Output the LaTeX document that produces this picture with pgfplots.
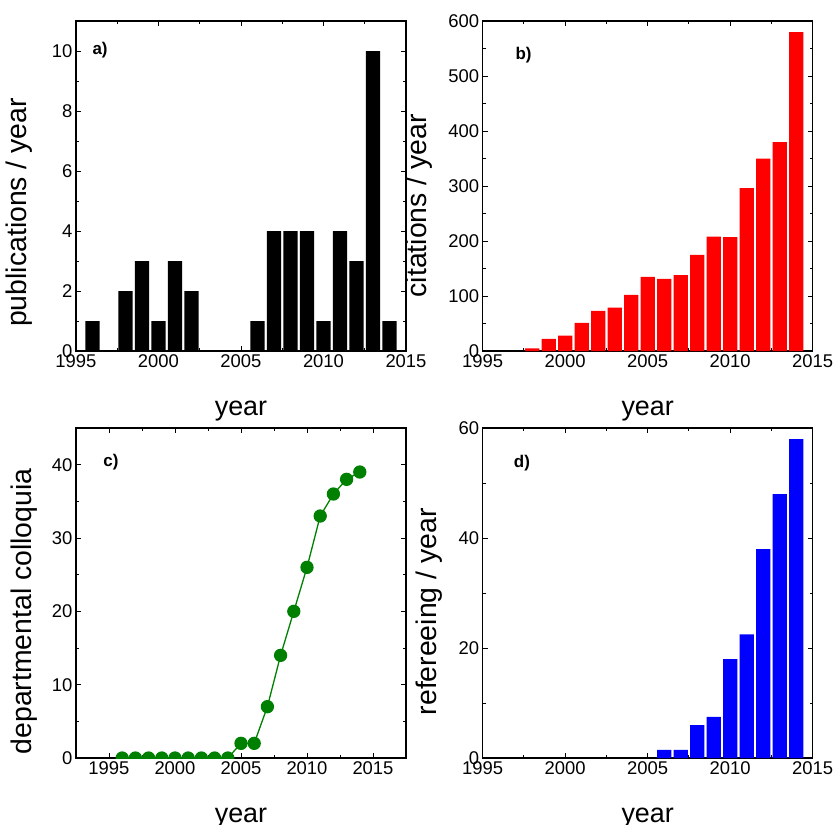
\documentclass[border=0pt]{standalone}
\usepackage{pgfplots}
\pgfplotsset{compat=1.18}
\usepackage{fontspec}
\setmainfont{Liberation Sans}
\definecolor{dgreen}{RGB}{0,128,0}
\pgfplotsset{panel/.style={
  scale only axis, width=330bp, height=330bp,
  axis line style={line width=1.2bp},
  every tick/.style={line width=1bp, black},
  major tick length=5bp, minor tick length=3bp,
  tick align=inside,
  minor tick num=1,
  ticklabel style={font=\fontsize{18.5}{20}\selectfont},
  xlabel style={font=\fontsize{27}{30}\selectfont},
  ylabel style={font=\fontsize{28.5}{30}\selectfont},
  xlabel={year},
  xlabel style={at={(axis description cs:0.5,0)}, anchor=base, yshift=-64bp},
  /pgf/number format/assume math mode=true,
  /pgf/number format/1000 sep={},
  xmin=1995, xmax=2015, xtick={1995,2000,...,2015},
  ymin=0,
  clip marker paths=true,
}}
\begin{document}
\begin{tikzpicture}
\path[use as bounding box] (0,0) rectangle (835bp,-825bp);
% a)
\begin{axis}[panel, at={(76bp,-351bp)}, anchor=south west,
  ymax=11, ytick={0,2,...,10},
  ylabel={publications / year},
  ylabel style={at={(axis description cs:-0.149,0.42)}, anchor=base}]
\addplot[ybar, bar width=0.87, fill=black, draw=none] coordinates {
(1996,1) (1998,2) (1999,3) (2000,1) (2001,3) (2002,2)
(2006,1) (2007,4) (2008,4) (2009,4) (2010,1) (2011,4) (2012,3) (2013,10) (2014,1)};
\node[font=\bfseries\fontsize{17}{20}\selectfont] at (rel axis cs:0.073,0.911) {a)};
\end{axis}
% b)
\begin{axis}[panel, at={(482.7bp,-351bp)}, anchor=south west,
  ymax=600, ytick={0,100,...,600},
  ylabel={citations / year},
  ylabel style={at={(axis description cs:-0.170,0.44)}, anchor=base}]
\addplot[ybar, bar width=0.87, fill=red, draw=none] coordinates {
(1998,5) (1999,22) (2000,28) (2001,51) (2002,73) (2003,79) (2004,102)
(2005,135) (2006,131) (2007,138) (2008,175) (2009,208) (2010,207)
(2011,296) (2012,350) (2013,380) (2014,580)};
\node[font=\bfseries\fontsize{17}{20}\selectfont] at (rel axis cs:0.124,0.898) {b)};
\end{axis}
% c)
\begin{axis}[panel, at={(76bp,-758bp)}, anchor=south west,
  xmin=1992.5, xmax=2017.5,
  ymax=45, ytick={0,10,...,40},
  ylabel={departmental colloquia},
  ylabel style={at={(axis description cs:-0.134,0.444)}, anchor=base}]
\addplot[dgreen, line width=1.3bp, mark=*, mark size=6bp, mark options={fill=dgreen, draw=dgreen}] coordinates {
(1996,0) (1997,0) (1998,0) (1999,0) (2000,0) (2001,0) (2002,0) (2003,0) (2004,0)
(2005,2) (2006,2) (2007,7) (2008,14) (2009,20) (2010,26) (2011,33) (2012,36) (2013,38) (2014,39)};
\node[font=\bfseries\fontsize{17}{20}\selectfont] at (rel axis cs:0.106,0.896) {c)};
\end{axis}
% d)
\begin{axis}[panel, at={(482.7bp,-758bp)}, anchor=south west,
  ymax=60, ytick={0,20,40,60},
  ylabel={refereeing / year},
  ylabel style={at={(axis description cs:-0.139,0.443)}, anchor=base}]
\addplot[ybar, bar width=0.87, fill=blue, draw=none] coordinates {
(2006,1.5) (2007,1.5) (2008,6) (2009,7.5) (2010,18) (2011,22.5) (2012,38) (2013,48) (2014,58)};
\node[font=\bfseries\fontsize{17}{20}\selectfont] at (rel axis cs:0.119,0.895) {d)};
\end{axis}
\end{tikzpicture}
\end{document}
